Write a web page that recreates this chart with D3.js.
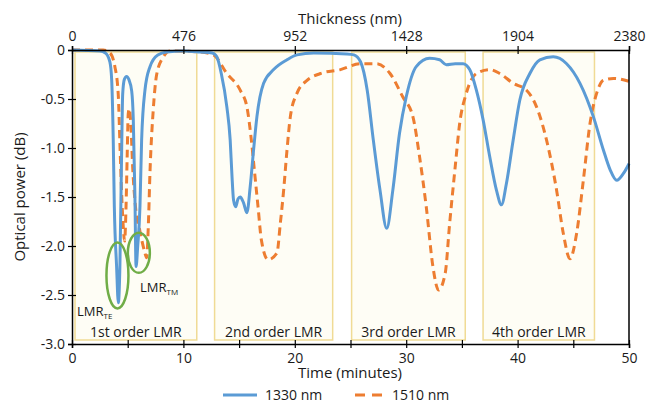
<!DOCTYPE html>
<html>
<head>
<meta charset="utf-8">
<script src="https://cdn.jsdelivr.net/npm/d3@7/dist/d3.min.js"></script>
<style>
  body { margin: 0; background: #fff; }
  text { font-family: "Open Sans", sans-serif; fill: #1a1a1a; }
</style>
</head>
<body>
<script>
const width = 648,
    height = 406;

// 1330 nm trace (time in minutes, optical power in dB)
const t1330 = [0, 2.5, 3.0, 3.4, 3.56, 3.7, 3.8, 4.0, 4.16, 4.3, 4.46, 4.55, 4.7, 4.9, 5.1, 5.36, 5.5, 5.65, 5.75, 5.9, 6.1, 6.25, 6.55, 7.0, 7.7, 8.5, 10, 11.5, 12.6,
  13.0, 13.4, 13.9, 14.2, 14.35, 14.5, 14.7, 14.9, 15.1, 15.4, 15.7, 16.0, 16.3, 16.6, 17.2, 18.1, 19.3, 20.2, 21.7, 24.7, 25.3,
  25.9, 26.5, 27.05, 27.65, 28.25, 28.8, 29.4, 30.0, 30.9, 32.1, 33.0, 33.6, 34.4, 35.1, 35.7, 36.3, 36.9, 37.5, 38.1, 38.55,
  39.0, 39.6, 40.2, 41.1, 42.0, 43.2, 44.4, 45.6, 46.8, 47.7, 48.3, 48.9, 49.5, 50];
const p1330 = [0, -0.01, -0.03, -0.12, -0.3, -0.9, -1.6, -2.2, -2.58, -2.2, -1.0, -0.45, -0.3, -0.27, -0.3, -0.42, -0.7, -1.5, -2.21, -2.0, -1.6, -0.92, -0.41, -0.17, -0.05, -0.02, -0.01, -0.02, -0.03,
  -0.07, -0.24, -0.58, -0.92, -1.26, -1.53, -1.6, -1.52, -1.5, -1.56, -1.66, -1.39, -1.02, -0.68, -0.34, -0.2, -0.1, -0.05, -0.03, -0.04, -0.05,
  -0.12, -0.41, -0.92, -1.43, -1.82, -1.43, -0.85, -0.48, -0.17, -0.085, -0.1, -0.15, -0.14, -0.14, -0.2, -0.41, -0.71, -1.09, -1.43, -1.58,
  -1.36, -0.92, -0.51, -0.24, -0.1, -0.07, -0.14, -0.34, -0.68, -1.02, -1.22, -1.33, -1.26, -1.16];

// 1510 nm trace
const t1510 = [0, 2.8, 3.4, 3.85, 4.15, 4.3, 4.45, 4.6, 4.72, 4.85, 4.95, 5.05, 5.15, 5.3, 5.45, 5.7, 6.1, 6.5, 6.7, 6.85, 7.0, 7.3, 7.6, 8.2, 8.8, 11.5,
  12.7, 13.9, 15.1, 15.7, 16.1, 16.4, 16.7, 17.0, 17.6, 18.4, 18.7, 19.0, 19.3, 19.6, 20.2, 21.1, 22.3, 24.1, 25.9, 27.35,
  28.55, 29.7, 30.6, 31.2, 31.8, 32.4, 32.9, 33.5, 33.9, 34.4, 34.8, 35.4, 36.3, 37.5, 38.4, 39.6, 40.8, 41.7, 42.6, 43.5,
  44.1, 44.7, 45.3, 45.9, 46.5, 47.1, 47.7, 48.6, 50];
const p1510 = [0, 0, -0.03, -0.17, -0.45, -0.95, -1.45, -1.8, -1.95, -1.6, -1.1, -0.65, -0.6, -0.8, -1.2, -1.6, -1.85, -2.05, -2.12, -1.8, -1.25, -0.6, -0.25, -0.07, -0.01, -0.02,
  -0.05, -0.24, -0.41, -0.58, -0.92, -1.26, -1.6, -1.94, -2.14, -2.07, -1.77, -1.43, -1.02, -0.68, -0.44, -0.31, -0.24, -0.2, -0.14, -0.14,
  -0.24, -0.48, -0.68, -1.09, -1.6, -2.21, -2.45, -2.28, -1.77, -1.19, -0.75, -0.44, -0.24, -0.2, -0.24, -0.34, -0.41, -0.58, -0.92, -1.43,
  -1.87, -2.13, -1.87, -1.33, -0.75, -0.44, -0.31, -0.29, -0.32];

// shaded LMR windows (minutes)
const boxLabels = ["1st order LMR", "2nd order LMR", "3rd order LMR", "4th order LMR"];
const boxStart = [0.27, 12.8, 25.1, 36.9];
const boxEnd = [11.2, 23.4, 35.3, 46.9];

const timeTicks = d3.range(0, 51, 5);
const thickTicks = [0, 476, 952, 1428, 1904, 2380];
const powerTicks = [0, -0.5, -1.0, -1.5, -2.0, -2.5, -3.0];

const blue = "#5b9bd5", orange = "#ed7d31", green = "#70ad47";

const svg = d3.select("body").append("svg")
    .attr("width", width)
    .attr("height", height);

const x = d3.scaleLinear().domain([0, 50]).range([72, 629]);
const xTop = d3.scaleLinear().domain([0, 2380]).range([72, 629]);
const y = d3.scaleLinear().domain([-3, 0]).range([344, 50]);

// LMR boxes
const boxes = svg.append("g");
boxes.selectAll("rect")
    .data(boxLabels)
    .enter().append("rect")
    .attr("x", (d, i) => x(boxStart[i]))
    .attr("width", (d, i) => x(boxEnd[i]) - x(boxStart[i]))
    .attr("y", 52)
    .attr("height", 288)
    .style("fill", "#fefdf5")
    .style("stroke", "#f0db95")
    .style("stroke-width", 1.5);

boxes.selectAll("text")
    .data(boxLabels)
    .enter().append("text")
    .attr("x", (d, i) => (x(boxStart[i]) + x(boxEnd[i])) / 2)
    .attr("y", 337)
    .attr("text-anchor", "middle")
    .style("font-size", "14px")
    .text(d => d);

// traces
const line = d3.line()
    .x(d => x(d[0]))
    .y(d => y(d[1]))
    .curve(d3.curveMonotoneX);

svg.append("path")
    .datum(d3.zip(t1510, p1510))
    .attr("d", line)
    .style("fill", "none")
    .style("stroke", orange)
    .style("stroke-width", 3)
    .style("stroke-dasharray", "8,5");

svg.append("path")
    .datum(d3.zip(t1330, p1330))
    .attr("d", line)
    .style("fill", "none")
    .style("stroke", blue)
    .style("stroke-width", 3);

// green ellipses around the 1st order dips
svg.append("ellipse")
    .attr("cx", x(4.08)).attr("cy", y(-2.30))
    .attr("rx", 11).attr("ry", 33)
    .style("fill", "none").style("stroke", green).style("stroke-width", 2.5);
svg.append("ellipse")
    .attr("cx", x(6.0)).attr("cy", y(-2.07))
    .attr("rx", 11).attr("ry", 20)
    .style("fill", "none").style("stroke", green).style("stroke-width", 2.5);

const te = svg.append("text").attr("x", 77).attr("y", 316).style("font-size", "13px");
te.append("tspan").text("LMR");
te.append("tspan").attr("dy", 3).style("font-size", "8px").text("TE");
const tm = svg.append("text").attr("x", 140).attr("y", 292).style("font-size", "13px");
tm.append("tspan").text("LMR");
tm.append("tspan").attr("dy", 3).style("font-size", "8px").text("TM");

// axes
function crossTicks(g, len) {
  g.selectAll(".tick line").attr("y1", -len).attr("y2", len);
}
const xAxis = svg.append("g")
    .attr("transform", "translate(0,344)")
    .call(d3.axisBottom(x).tickValues(timeTicks).tickSize(4).tickPadding(5)
      .tickFormat(d => d % 10 === 0 ? d : ""));
crossTicks(xAxis, 4);

const topAxis = svg.append("g")
    .attr("transform", "translate(0,50)")
    .call(d3.axisTop(xTop).tickValues(thickTicks).tickSize(4).tickPadding(5)
      .tickFormat(d => String(d)));
crossTicks(topAxis, 4);

const yAxis = svg.append("g")
    .attr("transform", "translate(72,0)")
    .call(d3.axisLeft(y).tickValues(powerTicks).tickSize(4).tickPadding(3)
      .tickFormat(d => d === 0 ? "0" : d.toFixed(1)));
yAxis.selectAll(".tick line").attr("x1", -4).attr("x2", 4);

svg.append("line")
    .attr("x1", 629).attr("x2", 629).attr("y1", 50).attr("y2", 344)
    .style("stroke", "#000").style("stroke-width", 1.5);

svg.selectAll(".domain").style("stroke", "#000").style("stroke-width", 1.5);
svg.selectAll(".tick line").style("stroke", "#000").style("stroke-width", 1.2);
svg.selectAll(".tick text").style("font-family", "'Open Sans', sans-serif").style("font-size", "14px").style("fill", "#1a1a1a");

// titles
svg.append("text")
    .attr("x", 350).attr("y", 378)
    .attr("text-anchor", "middle")
    .style("font-size", "15px")
    .text("Time (minutes)");
svg.append("text")
    .attr("x", 350).attr("y", 24)
    .attr("text-anchor", "middle")
    .style("font-size", "15px")
    .text("Thickness (nm)");
svg.append("text")
    .attr("transform", "translate(25,197) rotate(-90)")
    .attr("text-anchor", "middle")
    .style("font-size", "15px")
    .text("Optical power (dB)");

// legend
const legend = svg.append("g");
legend.append("line")
    .attr("x1", 223).attr("x2", 257).attr("y1", 395).attr("y2", 395)
    .style("stroke", blue).style("stroke-width", 3);
legend.append("text").attr("x", 265).attr("y", 400).style("font-size", "14px").text("1330 nm");
legend.append("line")
    .attr("x1", 355).attr("x2", 382).attr("y1", 395).attr("y2", 395)
    .style("stroke", orange).style("stroke-width", 3).style("stroke-dasharray", "10,7");
legend.append("text").attr("x", 392).attr("y", 400).style("font-size", "14px").text("1510 nm");
</script>
</body>
</html>
